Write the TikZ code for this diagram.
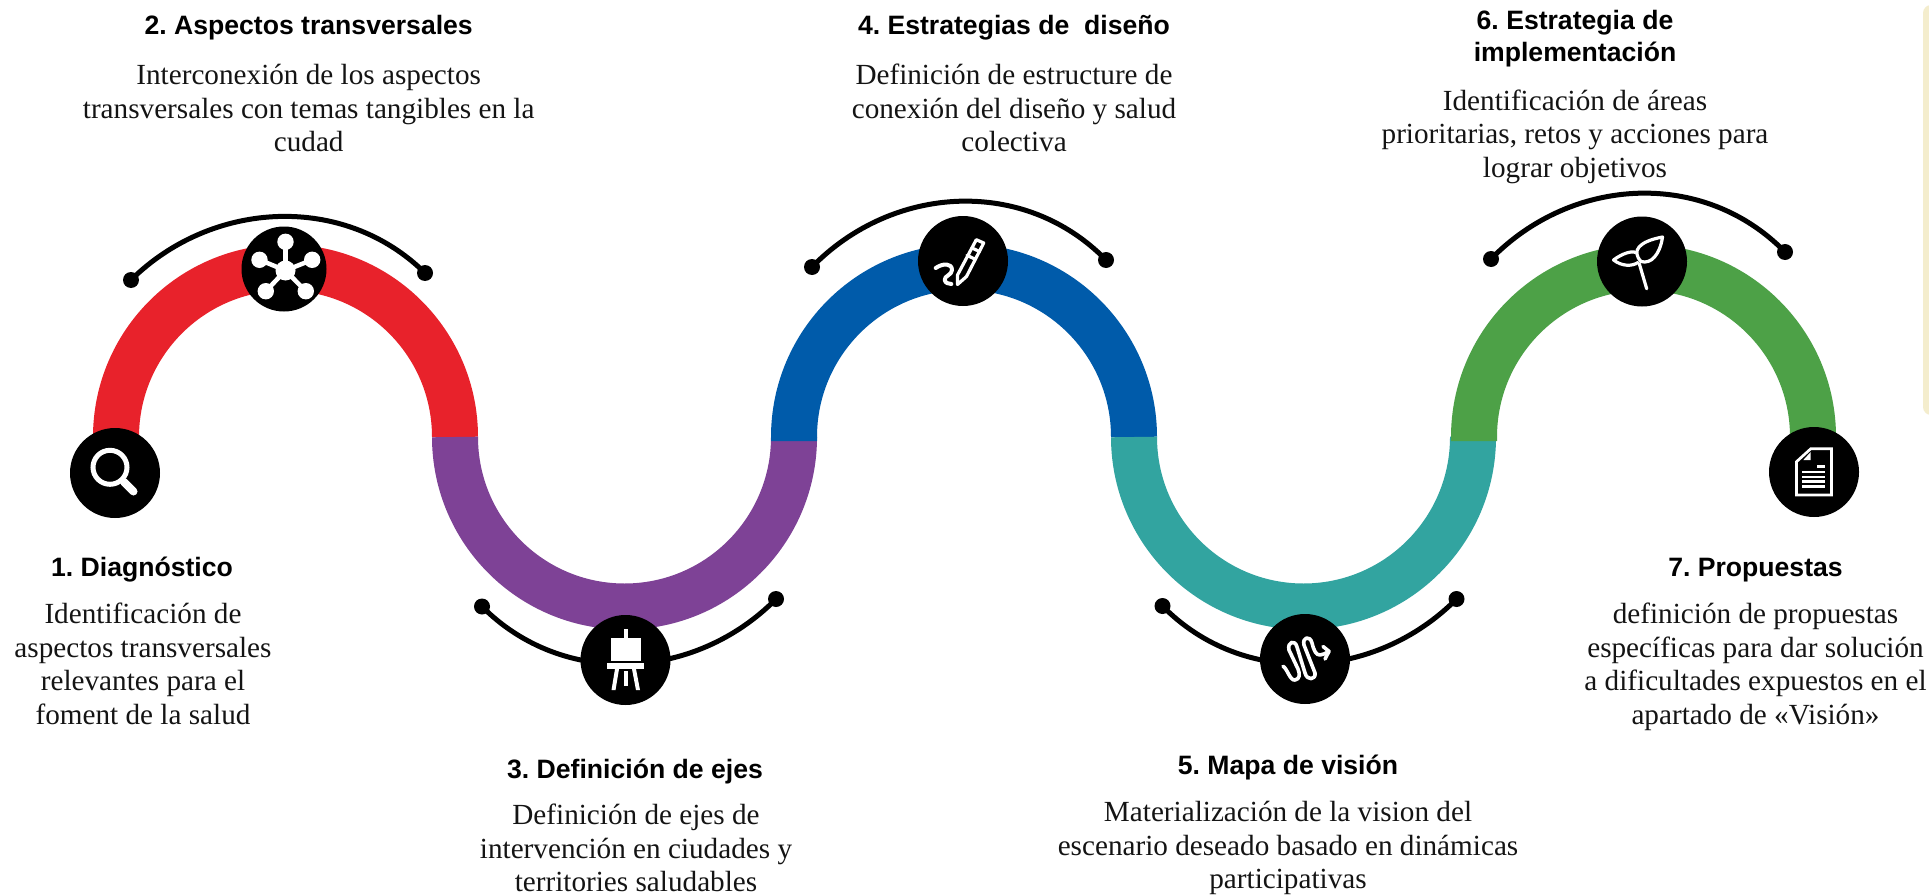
\documentclass[tikz,border=0pt]{standalone}
\usepackage{fontspec}
\setmainfont{Liberation Serif}
\newfontfamily\headfont{Liberation Sans}[BoldFont={Liberation Sans Bold}]
\frenchspacing
\definecolor{cRed}{HTML}{E8222B}
\definecolor{cPurple}{HTML}{7E4296}
\definecolor{cBlue}{HTML}{005BAA}
\definecolor{cTeal}{HTML}{32A4A0}
\definecolor{cGreen}{HTML}{4DA147}
\definecolor{cPanel}{HTML}{F4EDCD}
\tikzset{
  x=1pt,y=-1pt,
  band/.style={line width=46pt,line cap=butt},
  badge/.style={circle,fill=black,inner sep=0pt,minimum size=90pt},
  enddot/.style={circle,fill=black,inner sep=0pt,minimum size=16pt},
  bracket/.style={line width=5pt,black},
  heading/.style={align=center,font=\headfont\bfseries\frenchspacing\fontsize{26.6}{32}\selectfont,inner sep=0pt},
  bodytext/.style={align=center,font=\frenchspacing\fontsize{29.2}{33.6}\selectfont,inner sep=0pt,text=black!92},
  ico/.style={draw=white,line width=3.5pt,line cap=round,line join=round},
  icofill/.style={fill=white,draw=none}
}
\begin{document}
\begin{tikzpicture}
\useasboundingbox (0,0) rectangle (1929,896);
\fill[white] (0,0) rectangle (1929,896);
% side panel
\fill[cPanel,rounded corners=8pt] (1923,5) rectangle (1960,415);
% bands
\draw[band,cRed] (116,437) arc[start angle=180,end angle=0,radius=169.5pt];
\draw[band,cPurple] (455,437) arc[start angle=180,end angle=360,radius=169.5pt];
\draw[band,cBlue] (794,441) -- (794,437) arc[start angle=180,end angle=0,radius=170pt];
\draw[band,cTeal] (1134,437) arc[start angle=180,end angle=360,radius=169.5pt];
\draw[band,cGreen] (1474,441) -- (1474,437) arc[start angle=180,end angle=0,radius=169.5pt];
% end dots
\node[enddot] (a2) at (131,280) {};
\node[enddot] (b2) at (425,273) {};
\node[enddot] (a4) at (812,267) {};
\node[enddot] (b4) at (1106,260) {};
\node[enddot] (a6) at (1491,259) {};
\node[enddot] (b6) at (1785,252) {};
\node[enddot] (a3) at (482,606.5) {};
\node[enddot] (b3) at (776,599) {};
\node[enddot] (a5) at (1162.5,606) {};
\node[enddot] (b5) at (1456.5,599) {};
% brackets
\draw[bracket] (a2.center) .. controls (212,200) and (344,193) .. (b2.center);
\draw[bracket] (a4.center) .. controls (893,184) and (1025,177) .. (b4.center);
\draw[bracket] (a6.center) .. controls (1572,176) and (1704,169) .. (b6.center);
\draw[bracket] (a3.center) .. controls (563,688) and (695,681) .. (b3.center);
\draw[bracket] (a5.center) .. controls (1243,688) and (1375,681) .. (b5.center);
% badges
\node[badge] (i1) at (115,473) {};
\node[badge,minimum size=85pt] (i2) at (284,269) {};
\node[badge] (i3) at (625.5,660) {};
\node[badge] (i4) at (963,261) {};
\node[badge] (i5) at (1305,659) {};
\node[badge] (i6) at (1642,261.5) {};
\node[badge] (i7) at (1814,472) {};
% icon 1 magnifier
\begin{scope}[shift={(115,473)}]
\draw[draw=white,line width=5pt] (-5,-5.7) circle[radius=17pt];
\draw[white,line width=3.5pt] (6,6) -- (10,10);
\draw[white,line width=8pt,line cap=round] (9,9) -- (18.5,18.5);
\end{scope}
% icon 2 network
\begin{scope}[shift={(285.5,270.5)}]
\foreach \p in {(0,-28.7),(-26,-10.7),(26.7,-10.7),(-19.7,20.7),(20.3,20.7)}{
  \draw[white,line width=4.5pt] (0,0) -- \p;
  \fill[white] \p circle[radius=8.2pt];
}
\fill[white] (0,0) circle[radius=10pt];
\end{scope}
% icon 3 easel
\begin{scope}[shift={(625.5,660)}]
\fill[white] (-2,-31) rectangle (2,-22.5);
\fill[white] (-15,-21.7) rectangle (15,1);
\fill[white] (-18.3,3.3) rectangle (18.3,9);
\fill[white] (-10.5,9) -- (-6.5,9) -- (-10,30) -- (-14,30) -- cycle;
\fill[white] (6.5,9) -- (10.5,9) -- (14.5,30) -- (10.5,30) -- cycle;
\fill[white] (-2,11) rectangle (2,25.5);
\end{scope}
% icon 4 pen
\begin{scope}[shift={(963,261)}]
\draw[ico,line width=3.2pt] (-5.5,23.5) -- (-5.5,14) -- (13.3,-21.3) -- (20.7,-18) -- (3.5,15.5) -- cycle;
\draw[ico,line width=3.2pt] (9,-13) -- (16.5,-9.5);
\draw[ico,line width=3.2pt] (4,-5.7) -- (11.7,-2);
\draw[ico,line width=4pt] (-27.3,7) .. controls (-20,2) and (-11,2) .. (-11,9) .. controls (-11,14) and (-19,15) .. (-18.3,19) .. controls (-18,22) and (-14,23) .. (-11.7,23);
\end{scope}
% icon 5 serpentine
\begin{scope}[shift={(1305,659)}]
\draw[ico,line width=3.6pt] (-22,7.3) .. controls (-18,9) and (-15,22) .. (-10,21) .. controls (-5,20) and (-5,15) .. (-7,10) -- (-16,-9) .. controls (-18,-17) and (-10,-20) .. (-8,-12) -- (0,14) .. controls (2,22) and (11,21) .. (10,14) -- (-1,-14) .. controls (-3,-22) and (5,-24) .. (7,-16) .. controls (9,-8) and (11,-4) .. (15,-4) .. controls (18,-4) and (21,-6) .. (24,-7.7);
\draw[ico,line width=3.6pt] (18,-12.5) -- (24,-7.7) -- (20,0);
\end{scope}
% icon 6 plant
\begin{scope}[shift={(1642,261.5)}]
\draw[ico,line width=3.2pt] (4.7,27.3) -- (-2.7,2.3);
\draw[ico,line width=3.2pt] (-1,0) .. controls (-11,-11) and (-3,-20) .. (20.5,-24.5) .. controls (18,-7) and (9,3) .. (-1,0) -- cycle;
\draw[ico,line width=3.2pt] (-28.5,-1.5) .. controls (-20,-8) and (-10,-11) .. (-6.5,-9);
\draw[ico,line width=3.2pt] (-28.5,-1.5) .. controls (-20,5) and (-10,5) .. (-4,1);
\end{scope}
% icon 7 document
\begin{scope}[shift={(1814,472)}]
\draw[white,line width=2.7pt,line join=miter] (-3.3,-23.2) -- (17.5,-23.2) -- (17.5,23) -- (-17.5,23) -- (-17.5,-10.3) -- cycle;
\fill[white] (-10.7,-12) -- (-3.3,-20) -- (-3.3,-12) -- cycle;
\fill[white] (3.3,-7) rectangle (11,-4.3);
\fill[white] (-11.7,-1.3) rectangle (11,1.3);
\fill[white] (-11.7,3.7) rectangle (11,6.3);
\fill[white] (-11.7,8) rectangle (11,10.7);
\fill[white] (-11.7,13) rectangle (11,15.7);
\end{scope}
% texts
\node[heading] (h2) at (308.7,27.5) {2. Aspectos transversales};
\node[bodytext,anchor=north] (t2) at (308.7,64) {Interconexión de los aspectos\\transversales con temas tangibles en la\\cudad};
\node[heading] (h4) at (1014,27.5) {4. Estrategias de\ \ diseño};
\node[bodytext,anchor=north] (t4) at (1014,64) {Definición de estructure de\\conexión del diseño y salud\\colectiva};
\node[heading] (h6) at (1575,38.5) {6. Estrategia de\\implementación};
\node[bodytext,anchor=north] (t6) at (1575,89.5) {Identificación de áreas\\prioritarias, retos y acciones para\\lograr objetivos};
\node[heading] (h1) at (142,570) {1. Diagnóstico};
\node[bodytext,anchor=north] (t1) at (143,603) {Identificación de\\aspectos transversales\\relevantes para el\\foment de la salud};
\node[heading] (h7) at (1755.5,570) {7. Propuestas};
\node[bodytext,anchor=north] (t7) at (1755.5,603) {definición de propuestas\\específicas para dar solución\\a dificultades expuestos en el\\apartado de «Visión»};
\node[heading] (h3) at (635,771) {3. Definición de ejes};
\node[bodytext,anchor=north] (t3) at (636,804) {Definición de ejes de\\intervención en ciudades y\\territories saludables};
\node[heading] (h5) at (1288,767) {5. Mapa de visión};
\node[bodytext,anchor=north] (t5) at (1288,801) {Materialización de la vision del\\escenario deseado basado en dinámicas\\participativas};
\end{tikzpicture}
\end{document}
